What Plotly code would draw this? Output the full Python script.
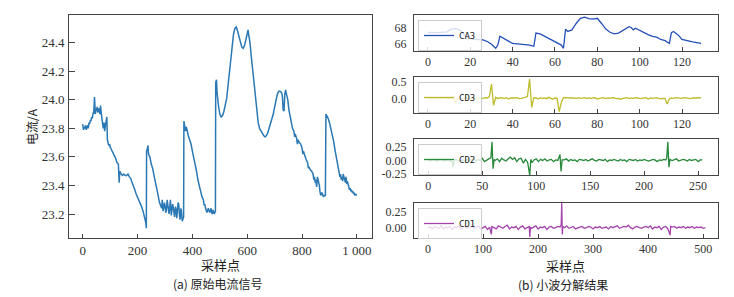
import plotly.graph_objects as go

# ---------------- data ----------------
raw_x = [0,3,5,8,10,13,15,18,20,23,25,28,30,33,35,38,40,43,46,48,50,53,55,58,60,63,65,68,70,73,75,78,80,83,85,88,90,93,95,98,100,105,110,115,120,125,130,133,135,140,145,150,155,160,165,170,175,180,185,190,195,200,205,210,215,220,225,230,232,
         233,236,238,240,245,250,255,260,265,270,275,280,285,288,290,293,295,298,300,303,305,308,310,313,315,318,320,323,325,328,330,333,335,338,340,343,345,348,350,353,355,358,360,363,365,368,
         369,372,375,378,380,385,390,395,400,405,410,415,420,425,430,435,440,443,445,448,450,453,455,458,460,463,465,468,470,473,475,478,480,484,
         485,488,490,495,500,505,510,515,520,525,530,535,540,545,550,555,560,565,570,575,580,585,590,595,600,603,605,610,615,620,625,630,635,640,645,650,655,660,665,670,675,680,685,690,695,700,705,710,715,720,725,728,731,734,737,740,743,748,752,756,760,765,770,773,775,780,783,785,790,795,800,803,805,810,815,820,823,825,830,835,840,843,845,848,850,853,856,860,863,865,868,872,875,878,880,885,
         887,890,895,900,905,910,915,920,925,930,935,938,940,943,945,948,950,953,955,958,960,963,965,968,970,973,975,978,980,983,985,988,990,993,995,999]
raw_y = [23.83,23.79,23.81,23.80,23.82,23.79,23.81,23.82,23.80,23.84,23.83,23.86,23.85,23.88,23.87,23.91,23.90,24.02,23.90,23.94,23.92,23.95,23.91,23.93,23.94,23.90,23.96,23.90,23.86,23.82,23.80,23.84,23.78,23.82,23.86,23.88,23.72,23.70,23.68,23.69,23.67,23.65,23.63,23.62,23.59,23.56,23.55,23.42,23.50,23.48,23.47,23.48,23.47,23.47,23.48,23.46,23.45,23.42,23.40,23.37,23.34,23.32,23.29,23.27,23.25,23.22,23.18,23.14,23.10,
         23.64,23.66,23.68,23.62,23.60,23.55,23.52,23.47,23.43,23.38,23.33,23.28,23.26,23.24,23.30,23.22,23.24,23.28,23.26,23.21,23.22,23.30,23.27,23.22,23.20,23.26,23.30,23.19,23.22,23.27,23.25,23.20,23.18,23.25,23.24,23.17,23.20,23.28,23.27,23.19,23.16,23.24,23.22,23.15,23.17,23.18,
         23.85,23.80,23.78,23.81,23.79,23.75,23.72,23.69,23.64,23.60,23.55,23.50,23.44,23.39,23.36,23.32,23.30,23.26,23.27,23.24,23.23,23.21,23.22,23.24,23.23,23.21,23.22,23.24,23.21,23.20,23.23,23.21,23.20,23.22,
         24.12,24.14,24.05,23.96,23.90,23.88,23.89,23.92,23.96,24.01,24.10,24.20,24.30,24.40,24.46,24.50,24.51,24.48,24.44,24.40,24.37,24.36,24.38,24.42,24.47,24.49,24.46,24.40,24.30,24.20,24.10,24.00,23.91,23.84,23.80,23.78,23.76,23.75,23.74,23.75,23.77,23.80,23.83,23.86,23.90,23.95,24.00,24.04,24.06,24.06,24.05,24.03,23.93,23.92,24.04,24.07,24.04,24.00,23.93,23.88,23.85,23.80,23.78,23.74,23.76,23.73,23.69,23.72,23.70,23.69,23.66,23.62,23.64,23.60,23.58,23.56,23.52,23.53,23.51,23.50,23.48,23.44,23.46,23.42,23.44,23.39,23.46,23.43,23.40,23.36,23.33,23.35,23.34,23.32,23.33,23.33,
         23.90,23.89,23.87,23.84,23.80,23.76,23.71,23.65,23.59,23.54,23.50,23.46,23.48,23.44,23.46,23.43,23.48,23.45,23.45,23.42,23.46,23.41,23.43,23.40,23.40,23.37,23.38,23.36,23.37,23.35,23.36,23.34,23.35,23.33,23.34,23.33]

ca3_x = [0,3,6,9,11,13,15,17,19,21,24,26,28,30,32,33,34,36,38,40,42,45,48,50,51,53,56,58,60,62,
         63,64,65,66,67,68,70,72,74,76,78,80,82,84,86,88,90,92,94,95,96,97,98,100,102,104,106,108,110,112,
         114,115,116,118,120,122,125,127,129]
ca3_y = [67.5,67.45,67.5,67.55,67.9,67.95,67.8,67.2,66.8,66.65,66.6,66.55,66.35,66.0,65.5,65.9,67.0,66.75,66.4,66.1,
         66.05,66.0,65.9,65.75,67.4,67.3,66.9,66.6,66.3,66.05,65.9,65.5,67.9,67.6,67.75,67.8,68.6,69.25,69.4,69.2,
         69.15,69.25,68.6,67.9,67.5,67.3,67.4,67.7,68.1,68.2,68.1,67.8,68.0,67.7,67.4,67.2,67.0,66.9,66.6,66.45,
         66.1,67.45,67.6,67.2,66.6,66.45,66.3,66.2,66.1]

cd3_y = [0.0,-0.01,0.01,-0.02,0.0,0.01,-0.01,0.0,0.02,-0.01,0.0,0.01,0.03,
         -0.15,0.02,
         0.01,-0.01,0.0,0.02,0.0,-0.01,0.01,0.02,0.0,-0.01,0.01,0.0,0.02,0.01,0.05,
         0.43,-0.21,0.03,
         -0.01,0.02,0.01,0.0,0.02,-0.02,0.01,0.0,0.01,0.02,-0.01,0.0,0.01,0.03,
         0.06,0.58,-0.27,0.02,
         0.01,-0.02,0.02,0.0,0.01,-0.01,0.03,0.0,-0.03,0.01,0.0,
         -0.40,-0.12,0.02,
         0.02,0.01,0.0,0.02,0.01,-0.01,0.02,0.0,0.01,0.02,-0.01,0.01,0.0,0.02,0.01,-0.02,
         0.0,0.01,0.02,-0.01,0.01,0.0,0.02,0.01,-0.01,0.0,-0.03,0.0,0.01,0.02,-0.01,0.01,
         0.0,0.02,0.01,-0.01,0.0,0.01,0.02,-0.02,0.01,0.0,0.01,0.02,-0.01,0.0,0.01,0.0,
         -0.17,-0.02,
         0.01,0.0,0.02,0.01,-0.01,0.0,0.02,0.01,0.0,-0.01,0.01,0.0,0.01,0.02,0.01]

cd2_base = [0.01,-0.01,0.02,0.0,-0.01,0.01,0.02,-0.01,0.0,0.01,
            0.0,-0.02,0.01,0.02,-0.01,0.0,0.01,-0.01,0.02,0.0,
            0.01,0.03,-0.01,0.02,0.0,0.04,-0.02,0.01,0.03,-0.01,
            0.02,0.0,0.03,-0.02,0.04,0.01,-0.01,0.03,0.06,0.02,
            0.05,-0.02,0.03,0.04,-0.05,0.02,-0.03,0.05,-0.04,0.01,
            0.03,-0.02,0.02,0.0,0.03,-0.01,0.01,0.02,-0.02,0.01,
            0.0,0.02,-0.01,0.01,0.03,-0.01,0.02,0.0,0.01,-0.02,
            0.02,0.01,0.0,0.02,-0.01,0.01,0.03,0.0,-0.01,0.02,
            0.01,0.0,0.02,-0.02,0.01,0.0,0.02,0.01,-0.01,0.02,
            0.0,0.01,-0.02,0.02,0.01,0.0,0.02,-0.01,0.01,0.0,
            0.02,0.01,-0.01,0.0,0.02,0.01,-0.02,0.01,0.0,0.02,
            0.01,-0.01,0.02,0.0,0.01,0.03,-0.01,0.0,0.02,0.01,
            -0.01,0.02,0.0,0.01,0.02,-0.02,0.01,0.01]
cd2_spike_x = [23,58,59,60,61,94,95,122,123,124,221,222,223,224]
cd2_spike_y = [-0.12,0.05,0.34,-0.15,0.02,-0.27,0.02,0.11,-0.20,0.01,0.05,0.34,-0.12,0.02]

cd1_base = [0.0,0.01,-0.02,0.02,0.0,-0.01,0.03,-0.02,0.01,0.0,
            0.02,-0.03,0.01,0.0,0.03,-0.02,0.01,0.02,-0.01,0.0,
            0.02,-0.01,0.01,0.03,-0.02,0.0,0.02,-0.03,0.01,0.02,
            0.0,-0.02,0.03,0.01,-0.01,0.02,0.04,-0.02,0.01,0.0,
            0.02,-0.03,0.01,0.03,-0.02,0.0,0.02,-0.01,0.01,0.03,
            -0.02,0.01,0.0,0.02,-0.03,0.01,0.02,-0.01,0.0,0.02,
            0.01,-0.02,0.0,0.03,-0.01,0.01,0.02,-0.02,0.0,0.01,
            0.02,-0.01,0.0,0.02,0.01,-0.02,0.01,0.0,0.02,-0.01,
            0.0,0.01,-0.02,0.02,0.0,0.01,0.03,-0.01,0.0,0.02,
            0.01,0.04,0.0,-0.02,0.01,0.02,0.0,-0.01,0.01,0.02,
            0.0,0.03,-0.02,0.01,0.0,0.02,-0.03,0.01,0.02,-0.02,
            0.0,0.01,0.02,-0.01,0.01,0.0,0.02,-0.01,0.01,0.0,
            0.02,-0.01,0.01,0.0,0.01,-0.01,0.0]
cd1_spike_x = [115,116,185,186,242,243,244,245,440,441]
cd1_spike_y = [-0.11,0.02,-0.15,0.01,0.05,0.40,-0.11,0.02,-0.12,0.02]

left_xticks = [0,200,400,600,800,1000]
left_xlabels = ["0","200","400","600","800","1 000"]
left_yticks = [23.2,23.4,23.6,23.8,24.0,24.2,24.4]

def merge(base, step, sx, sy):
    d = {i*step: v for i, v in enumerate(base)}
    for a, b in zip(sx, sy):
        d[a] = b
    ks = sorted(d)
    return ks, [d[k] for k in ks]

cd2_x, cd2_y = merge(cd2_base, 2, cd2_spike_x, cd2_spike_y)
cd1_x, cd1_y = merge(cd1_base, 4, cd1_spike_x, cd1_spike_y)
cd3_x = list(range(len(cd3_y)))

# ---------------- figure ----------------
# page body has an 8px margin, so the figure is offset by 8px in the screenshot
OFF = 8
W, H = 734 - OFF, 297 - OFF
def px(x): return (x - OFF) / W
def py(y): return 1 - (y - OFF) / H

fig = go.Figure()
fig.add_trace(go.Scatter(x=raw_x, y=raw_y, mode="lines", line=dict(color="#2a78b4", width=1.5),
                         showlegend=False, xaxis="x", yaxis="y"))
series = [("CA3", ca3_x, ca3_y, "#2350b8", "x2", "y2", "legend"),
          ("CD3", cd3_x, cd3_y, "#bcbc2a", "x3", "y3", "legend2"),
          ("CD2", cd2_x, cd2_y, "#27893a", "x4", "y4", "legend3"),
          ("CD1", cd1_x, cd1_y, "#a444ac", "x5", "y5", "legend4")]
for name, xs, ys, col, xa, ya, lg in series:
    fig.add_trace(go.Scatter(x=xs, y=ys, mode="lines", name=name, line=dict(color=col, width=1.3),
                             xaxis=xa, yaxis=ya, legend=lg, showlegend=True))

axcol = "#444"
serif = "Liberation Serif, Times New Roman, serif"
tickfont = dict(family=serif, size=12, color="#333")
common = dict(showline=True, mirror=True, linecolor=axcol, linewidth=1, showgrid=False,
              zeroline=False, automargin=False, tickcolor=axcol)

left_dom_x = [px(69), px(372)]
right_dom_x = [px(414), px(718)]

layout = dict(
    width=W, height=H, margin=dict(l=0, r=0, t=0, b=0),
    plot_bgcolor="white", paper_bgcolor="white",
    xaxis=dict(domain=left_dom_x, range=[-50, 1055], tickvals=left_xticks, ticktext=left_xlabels,
               ticks="inside", ticklen=4, anchor="y", ticklabelstandoff=0,
               tickfont=dict(family=serif, size=13, color="#333"), **common),
    yaxis=dict(domain=[py(238), py(15)], range=[23.032, 24.594], tickvals=left_yticks,
               ticktext=[f"{v:.1f}" for v in left_yticks], ticks="inside", ticklen=6, anchor="x",
               ticklabelstandoff=1,
               tickfont=dict(family=serif, size=13, color="#333"), **common),
)

panels = [
    ("2", [py(51), py(15)], [-6.6, 137], [0,20,40,60,80,100,120], [65.16, 69.66], [66, 68], ["66", "68"]),
    ("3", [py(113), py(77)], [-6.6, 137], [0,20,40,60,80,100,120], [-0.44, 0.64], [0.0, 0.5], ["0.0", "0.5"]),
    ("4", [py(175), py(139)], [-13.3, 268.5], [0,50,100,150,200,250], [-0.263, 0.39], [-0.25, 0.0, 0.25], ["-0.25", "0.00", "0.25"]),
    ("5", [py(238), py(203)], [-25.5, 527], [0,100,200,300,400,500], [-0.167, 0.40], [0.0, 0.25], ["0.00", "0.25"]),
]
for k, ydom, xr, xt, yr, yt, ytt in panels:
    layout["xaxis" + k] = dict(domain=right_dom_x, range=xr, tickvals=xt, ticks="inside", ticklen=4,
                               anchor="y" + k, ticklabelstandoff=0, tickfont=tickfont, **common)
    layout["yaxis" + k] = dict(domain=ydom, range=yr, tickvals=yt, ticktext=ytt, ticks="",
                               anchor="x" + k, ticklabelstandoff=4, tickfont=tickfont, **common)

legend_tops = [20, 82, 144, 208]
for i, t in enumerate(legend_tops):
    key = "legend" if i == 0 else f"legend{i+1}"
    layout[key] = dict(x=px(418), y=py(t), xanchor="left", yanchor="top",
                       bgcolor="rgba(255,255,255,0.8)", bordercolor="#cccccc", borderwidth=1,
                       font=dict(family="DejaVu Sans Mono", size=9, color="#222"),
                       itemwidth=30, tracegroupgap=0)

fig.update_layout(**layout)

cjk = "Noto Sans CJK SC"
ann = [
    dict(x=px(220), y=py(264), text="采样点", size=13),
    dict(x=px(218), y=py(283), text="(a) 原始电流信号", size=12),
    dict(x=px(565), y=py(265), text="采样点", size=13),
    dict(x=px(563), y=py(284), text="(b) 小波分解结果", size=12),
]
for a in ann:
    fig.add_annotation(x=a["x"], y=a["y"], xref="paper", yref="paper", text=a["text"], showarrow=False,
                       xanchor="center", yanchor="middle",
                       font=dict(family=cjk, size=a["size"], color="#222"))
fig.add_annotation(x=px(31), y=py(127), xref="paper", yref="paper", text="电流/A", showarrow=False,
                   textangle=-90, xanchor="center", yanchor="middle",
                   font=dict(family=cjk, size=12, color="#222"))

fig.write_html("out.html")
